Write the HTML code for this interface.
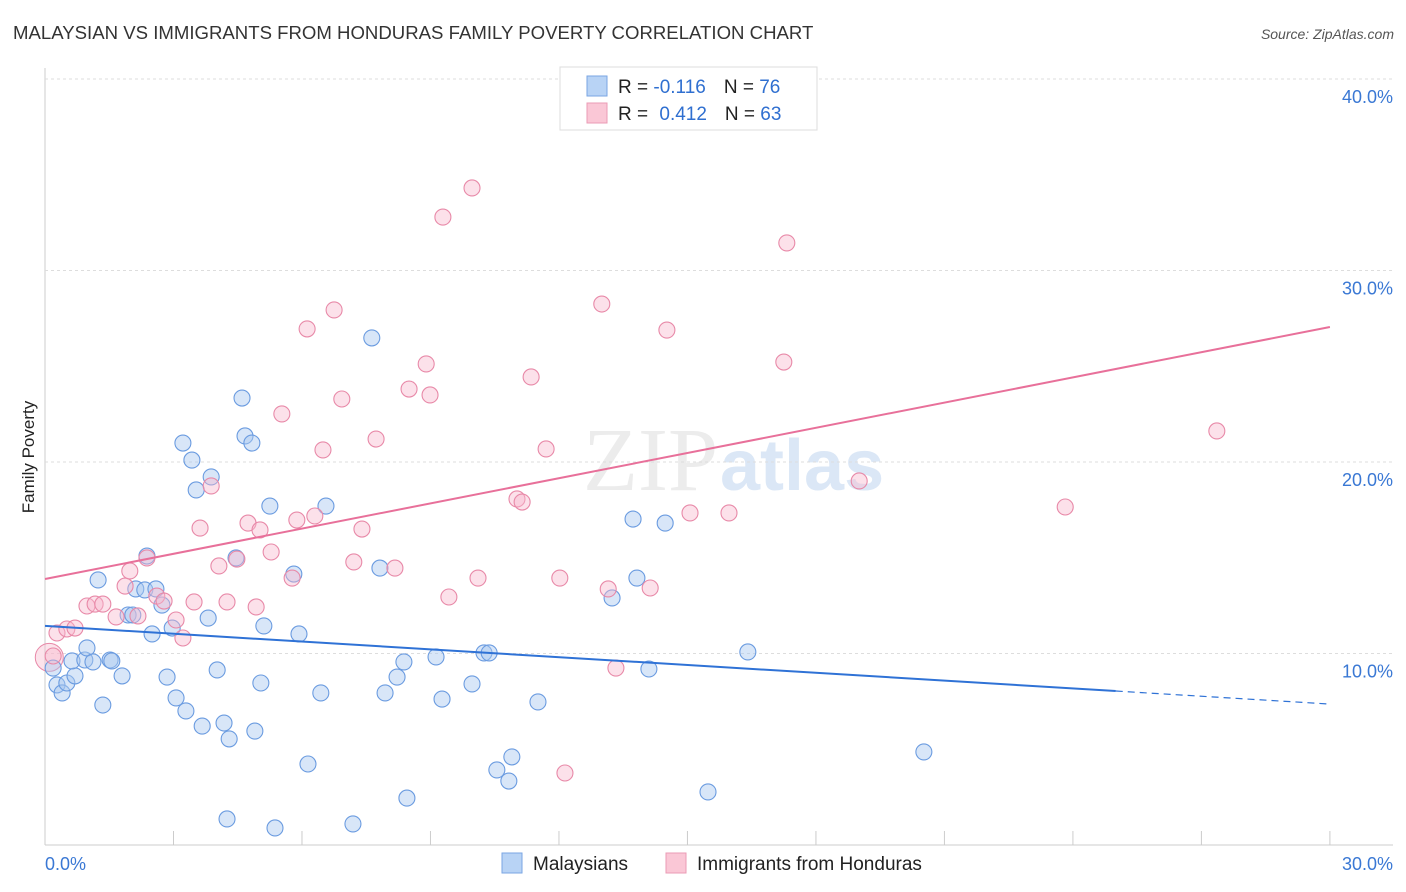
<!DOCTYPE html>
<html><head><meta charset="utf-8"><style>
body{margin:0;background:#fff;font-family:"Liberation Sans",sans-serif;}
#wrap{position:relative;width:1406px;height:892px;overflow:hidden}
</style></head><body>
<div id="wrap">
<svg id="svg" width="1406" height="892" xmlns="http://www.w3.org/2000/svg">
<text x="13" y="39" font-size="18.6" fill="#333">MALAYSIAN VS IMMIGRANTS FROM HONDURAS FAMILY POVERTY CORRELATION CHART</text>
<text x="1394" y="39" font-size="14" fill="#555" font-style="italic" text-anchor="end">Source: ZipAtlas.com</text>
<text x="718" y="490" font-size="90" fill="#ececec" text-anchor="end" font-family="Liberation Serif">ZIP</text>
<text x="720" y="490" font-size="72" fill="#dbe7f6" font-weight="bold">atlas</text>
<g id="grid"></g><g id="pts"></g><g id="trend"></g>
<text transform="translate(34,457) rotate(-90)" font-size="17" fill="#222" text-anchor="middle">Family Poverty</text>
<g>
<rect x="560" y="67" width="257" height="63" fill="#fff" stroke="#ddd"/>
<rect x="587" y="76" width="20" height="20" fill="#b8d3f5" stroke="#7aa6e3"/>
<rect x="587" y="103" width="20" height="20" fill="#fac7d6" stroke="#eb9bb5"/>
<text x="618" y="93" font-size="19" fill="#222">R = <tspan fill="#2f6fd0">-0.116</tspan><tspan dx="18">N = </tspan><tspan fill="#2f6fd0">76</tspan></text>
<text x="618" y="120" font-size="19" fill="#222">R = <tspan dx="6" fill="#2f6fd0">0.412</tspan><tspan dx="18">N = </tspan><tspan fill="#2f6fd0">63</tspan></text>
</g>
<g>
<rect x="502" y="853" width="20" height="20" fill="#b8d3f5" stroke="#7aa6e3"/>
<text x="533" y="870" font-size="19" fill="#222">Malaysians</text>
<rect x="666" y="853" width="20" height="20" fill="#fac7d6" stroke="#eb9bb5"/>
<text x="697" y="870" font-size="19" fill="#222">Immigrants from Honduras</text>
</g>
</svg></div>
<script>
const yTicks=[10,20,30,40];
const yTickLabels=["10.0%","20.0%","30.0%","40.0%"];
const xEndLabels=["0.0%","30.0%"];
const blueX=[0.19,0.28,0.40,0.51,0.70,0.63,0.93,0.98,1.12,1.24,1.35,1.52,1.56,1.80,1.94,2.05,2.12,2.33,2.38,2.50,2.59,2.73,2.85,2.97,3.06,3.22,3.29,3.43,3.53,3.67,3.81,3.88,4.02,4.18,4.25,4.30,4.46,4.60,4.67,4.83,4.90,5.04,5.11,5.25,5.37,5.81,5.93,6.14,6.44,6.56,7.19,7.63,7.82,7.94,8.22,8.38,8.45,9.13,9.27,9.97,10.25,10.37,10.55,10.83,10.90,11.51,13.24,13.73,13.82,14.10,14.48,15.48,16.41,20.52];
const blueY=[9.24,8.36,7.94,8.46,8.83,9.61,9.66,10.29,9.56,13.84,7.31,9.66,9.61,8.83,12.01,12.01,13.37,13.32,15.09,11.02,13.37,12.53,8.77,11.33,7.68,20.99,7.00,20.10,18.54,6.21,11.85,19.22,9.14,6.37,1.36,5.54,14.99,23.34,21.36,20.99,5.95,8.46,11.44,17.70,0.89,14.15,11.02,4.23,7.94,17.70,1.10,26.48,14.46,7.94,8.77,9.56,2.45,9.82,7.62,8.41,10.03,10.03,3.92,3.34,4.60,7.47,12.90,17.02,13.94,9.19,16.81,2.77,10.08,4.86];
const pinkX=[0.19,0.28,0.51,0.70,0.98,1.17,1.35,1.66,1.87,1.98,2.17,2.38,2.61,2.78,3.06,3.22,3.48,3.62,3.88,4.06,4.25,4.48,4.74,4.93,5.02,5.28,5.53,5.77,5.88,6.12,6.30,6.49,6.75,6.93,7.21,7.40,7.73,8.17,8.50,8.90,8.99,9.29,9.43,9.97,10.11,11.02,11.14,11.35,11.70,12.02,12.14,13.00,13.15,13.33,14.13,14.52,15.06,15.97,17.25,17.32,19.01,23.82,27.36];
const pinkY=[9.87,11.07,11.28,11.33,12.48,12.58,12.58,11.91,13.52,14.31,11.96,14.99,13.00,12.74,11.75,10.81,12.69,16.55,18.75,14.57,12.69,14.93,16.81,12.43,16.45,15.30,22.51,13.94,16.97,26.95,17.18,20.63,27.94,23.29,14.78,16.50,21.20,14.46,23.81,25.12,23.50,32.79,12.95,34.31,13.94,18.07,17.91,24.44,20.68,13.94,3.76,28.25,13.37,9.24,13.42,26.89,17.34,17.34,25.22,31.44,19.01,17.65,21.62];
const blueTrend=[11.44,7.36]; const blueSolidEnd=25;
const pinkTrend=[13.89,27.05];
const X=v=>45+v*42.83, Y=v=>845-v*19.15;
const NS="http://www.w3.org/2000/svg";
function mk(p,t,a){const e=document.createElementNS(NS,t);for(const k in a)e.setAttribute(k,a[k]);p.appendChild(e);return e;}
const grid=document.getElementById('grid');
mk(grid,'line',{x1:45,y1:68,x2:45,y2:845,stroke:'#ccc'});
mk(grid,'line',{x1:45,y1:845,x2:1393,y2:845,stroke:'#ccc'});
for(let i=0;i<=10;i++){mk(grid,'line',{x1:X(i*3),x2:X(i*3),y1:831,y2:845,stroke:'#ccc'});}
yTicks.forEach((t,i)=>{
 const g=mk(grid,'line',{x1:45,x2:1393,y1:Y(t),y2:Y(t),stroke:'#ddd','stroke-dasharray':'3,3'});
 
 
 const tx=mk(grid,'text',{x:1393,y:Y(t)+24,'font-size':18,fill:'#3a78d4','text-anchor':'end'});
 tx.textContent=yTickLabels[i];
 
 
});
[[0,'start',45],[30,'end',1393]].forEach((d,i)=>{const t=mk(grid,'text',{x:d[2],y:870,'font-size':18,fill:'#3a78d4','text-anchor':d[1]});t.textContent=xEndLabels[i];
 
 });
const pts=document.getElementById('pts');
mk(pts,'circle',{cx:X(0.1),cy:Y(9.8),r:14,fill:'rgba(247,184,204,0.4)',stroke:'#e889a8'});
blueX.forEach((v,i)=>{const c=mk(pts,'circle',{cx:X(v),cy:Y(blueY[i]),r:8,fill:'rgba(169,200,240,0.45)',stroke:'#6a9be0','stroke-width':1.1});
 
 });
pinkX.forEach((v,i)=>{const c=mk(pts,'circle',{cx:X(v),cy:Y(pinkY[i]),r:8,fill:'rgba(247,184,204,0.42)',stroke:'#e889a8','stroke-width':1.1});
 
 });
const tr=document.getElementById('trend');
const by=x=>blueTrend[0]+(blueTrend[1]-blueTrend[0])*x/30;
let l=mk(tr,'line',{x1:X(0),y1:Y(by(0)),x2:X(blueSolidEnd),y2:Y(by(blueSolidEnd)),stroke:'#2f72d6','stroke-width':2});


l=mk(tr,'line',{x1:X(blueSolidEnd),y1:Y(by(blueSolidEnd)),x2:X(30),y2:Y(by(30)),stroke:'#2f72d6','stroke-width':1.2,'stroke-dasharray':'7,5'});


l=mk(tr,'line',{x1:X(0),y1:Y(pinkTrend[0]),x2:X(30),y2:Y(pinkTrend[1]),stroke:'#e8709a','stroke-width':2});


</script>
</body></html>
